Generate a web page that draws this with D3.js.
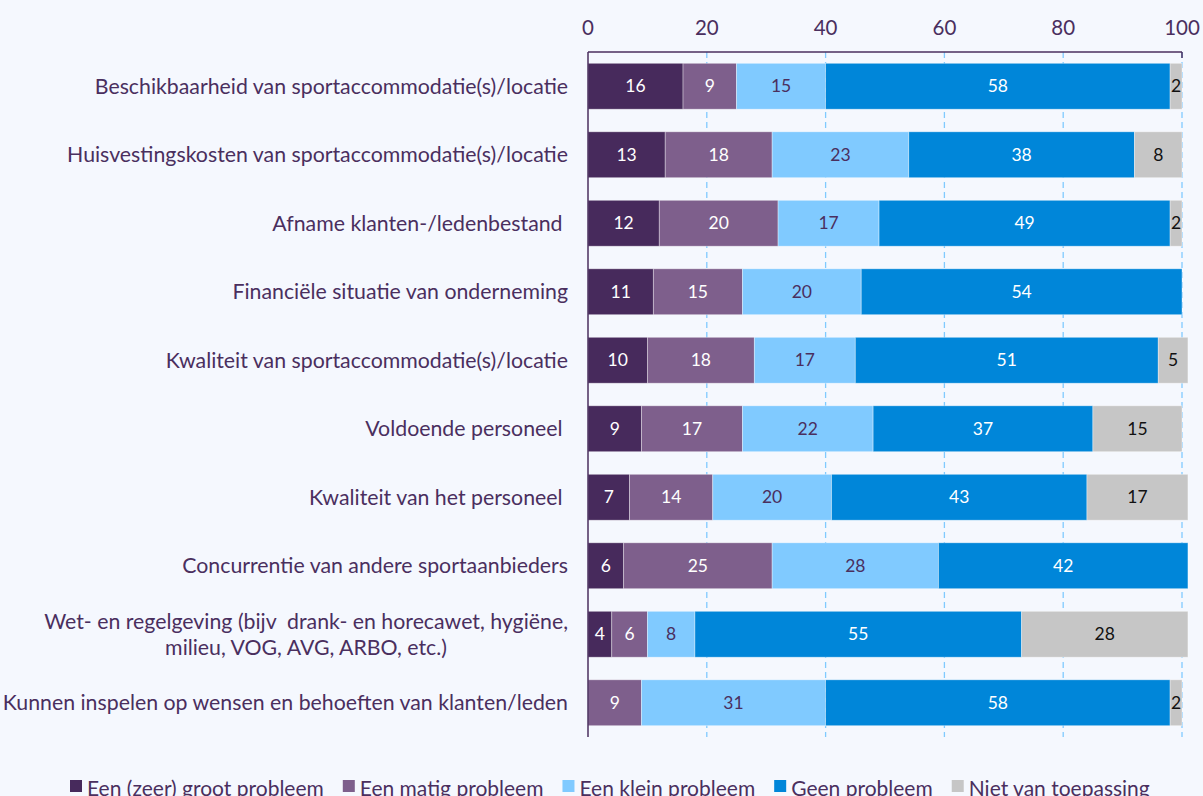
<!DOCTYPE html>
<html>
<head>
<meta charset="utf-8">
<script src="https://cdn.jsdelivr.net/npm/d3@7"></script>
<style>
    body { margin: 0; background: #f5f8fe; }
    svg { display: block; font-family: Lato, "Noto Sans", sans-serif; }
</style>
</head>
<body>
<svg class="chart" width="1203" height="796"></svg>
<script>
var categories = [
    ["Beschikbaarheid van sportaccommodatie(s)/locatie"],
    ["Huisvestingskosten van sportaccommodatie(s)/locatie"],
    ["Afname klanten-/ledenbestand "],
    ["Financiële situatie van onderneming"],
    ["Kwaliteit van sportaccommodatie(s)/locatie"],
    ["Voldoende personeel "],
    ["Kwaliteit van het personeel "],
    ["Concurrentie van andere sportaanbieders"],
    ["Wet- en regelgeving (bijv  drank- en horecawet, hygiëne,", "milieu, VOG, AVG, ARBO, etc.)"],
    ["Kunnen inspelen op wensen en behoeften van klanten/leden"]
];
var seriesNames = ["Een (zeer) groot probleem", "Een matig probleem", "Een klein probleem", "Geen probleem", "Niet van toepassing"];
var grootProbleem = [16, 13, 12, 11, 10, 9, 7, 6, 4, 0];
var matigProbleem = [9, 18, 20, 15, 18, 17, 14, 25, 6, 9];
var kleinProbleem = [15, 23, 17, 20, 17, 22, 20, 28, 8, 31];
var geenProbleem = [58, 38, 49, 54, 51, 37, 43, 42, 55, 58];
var nietVanToepassing = [2, 8, 2, 0, 5, 15, 17, 0, 28, 2];
var xTicks = [0, 20, 40, 60, 80, 100];

var colors = ["#472a5c", "#7e5f8c", "#80caff", "#0086d9", "#c6c6c6"];
var labelColors = ["#ffffff", "#ffffff", "#4a2f5e", "#ffffff", "#111111"];
var textColor = "#4a2f5e";

var svg = d3.select("svg.chart");
var plotLeft = 588, plotRight = 1182, plotTop = 52, plotBottom = 737;

var x = d3.scaleLinear().domain([0, 100]).range([plotLeft, plotRight]);
var y = d3.scaleBand()
    .domain(d3.range(categories.length))
    .range([plotTop, plotBottom])
    .paddingInner(0.33)
    .paddingOuter(0.165);

var seriesValues = [grootProbleem, matigProbleem, kleinProbleem, geenProbleem, nietVanToepassing];
var rows = categories.map(function (c, i) {
    var row = { index: i };
    seriesNames.forEach(function (s, k) { row[s] = seriesValues[k][i]; });
    return row;
});
var stacked = d3.stack().keys(seriesNames)(rows);

// grid lines
svg.append("g")
    .selectAll("line")
    .data(xTicks.slice(1))
    .join("line")
    .attr("x1", function (d) { return x(d); })
    .attr("x2", function (d) { return x(d); })
    .attr("y1", plotTop)
    .attr("y2", plotBottom)
    .attr("stroke", "#80caff")
    .attr("stroke-width", 1.3)
    .attr("stroke-dasharray", "6,4");

// bars
var layers = svg.append("g")
    .selectAll("g.layer")
    .data(stacked)
    .join("g")
    .classed("layer", true);

layers.each(function (layer, k) {
    var g = d3.select(this);
    var segs = layer.filter(function (d) { return d[1] - d[0] > 0; });
    g.selectAll("rect")
        .data(segs)
        .join("rect")
        .attr("x", function (d) { return x(d[0]); })
        .attr("y", function (d) { return y(d.data.index); })
        .attr("width", function (d) { return x(d[1]) - x(d[0]); })
        .attr("height", y.bandwidth())
        .attr("fill", colors[k])
        .attr("stroke", "rgba(255,255,255,0.45)")
        .attr("stroke-width", 0.8);
    g.selectAll("text")
        .data(segs)
        .join("text")
        .attr("x", function (d) { return (x(d[0]) + x(d[1])) / 2; })
        .attr("y", function (d) { return y(d.data.index) + y.bandwidth() / 2; })
        .attr("dy", "0.35em")
        .attr("text-anchor", "middle")
        .attr("font-size", 17.5)
        .attr("fill", labelColors[k])
        .text(function (d) { return d[1] - d[0]; });
});

// axes
var axis = svg.append("g").attr("stroke", textColor).attr("stroke-width", 1.5);
axis.append("line").attr("x1", plotLeft).attr("x2", x(100)).attr("y1", plotTop).attr("y2", plotTop);
axis.append("line").attr("x1", plotLeft).attr("x2", plotLeft).attr("y1", plotTop).attr("y2", plotBottom);
axis.append("line").attr("x1", x(100)).attr("x2", x(100)).attr("y1", plotTop).attr("y2", plotTop + 6);

svg.append("g")
    .selectAll("text")
    .data(xTicks)
    .join("text")
    .attr("x", function (d) { return x(d); })
    .attr("y", 35)
    .attr("text-anchor", "middle")
    .attr("font-size", 20.5)
    .attr("fill", textColor)
    .text(function (d) { return d; });

// category labels
svg.append("g")
    .selectAll("text")
    .data(categories)
    .join("text")
    .attr("font-size", 21.3)
    .attr("fill", textColor)
    .style("white-space", "pre")
    .each(function (lines, i) {
        var t = d3.select(this);
        var cy = y(i) + y.bandwidth() / 2;
        var lh = 26;
        var y0 = cy - (lines.length - 1) * lh / 2;
        if (lines.length === 1) {
            t.append("tspan")
                .attr("x", 568)
                .attr("y", y0)
                .attr("dy", "0.35em")
                .attr("text-anchor", "end")
                .text(lines[0]);
        } else {
            t.attr("text-anchor", "middle");
            var probe = t.append("tspan").text(lines[0]);
            var w = probe.node().getComputedTextLength();
            probe.remove();
            var cx = 568 - w / 2;
            lines.forEach(function (line, j) {
                t.append("tspan")
                    .attr("x", cx)
                    .attr("y", y0 + j * lh)
                    .attr("dy", "0.35em")
                    .text(line);
            });
        }
    });

// legend
var legend = svg.append("g");
var items = legend.selectAll("g")
    .data(seriesNames)
    .join("g");
items.append("rect")
    .attr("width", 12)
    .attr("height", 12)
    .attr("y", 780)
    .attr("fill", function (d, i) { return colors[i]; });
items.append("text")
    .attr("x", 17)
    .attr("y", 796)
    .attr("font-size", 21)
    .attr("fill", textColor)
    .text(function (d) { return d; });
var offset = 70;
var gap = 19;
items.attr("transform", function () {
    var tx = offset;
    offset += 17 + d3.select(this).select("text").node().getComputedTextLength() + gap;
    return "translate(" + tx + ",0)";
});
</script>
</body>
</html>
